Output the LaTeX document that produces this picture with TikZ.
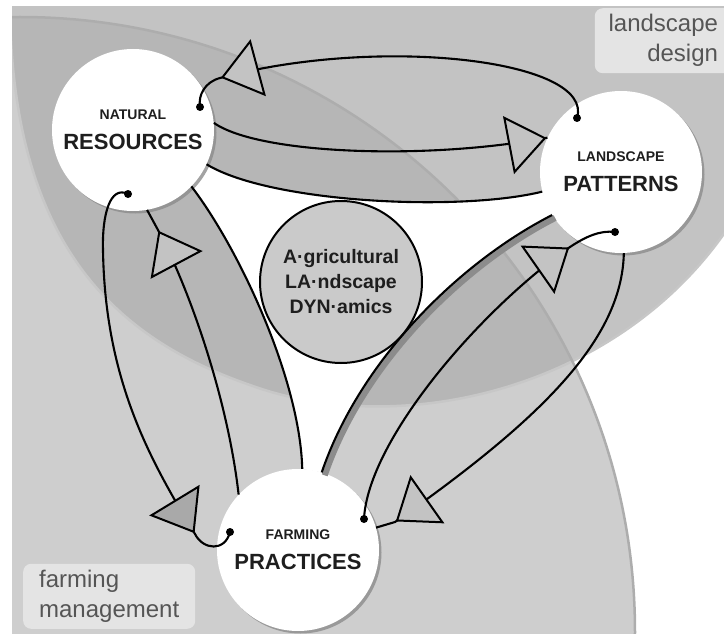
\documentclass[tikz,border=0pt]{standalone}
\usepackage{fontspec}
\setmainfont{Liberation Sans}
\usetikzlibrary{shapes.geometric,shadows,backgrounds}

\definecolor{landgray}{HTML}{C3C3C3}
\definecolor{farmgray}{HTML}{CECECE}
\definecolor{bothgray}{HTML}{B6B6B6}
\definecolor{rimgray}{HTML}{ADADAD}
\definecolor{veingray}{HTML}{C7C7C7}
\definecolor{boxgray}{HTML}{E4E4E4}
\definecolor{labelgray}{HTML}{555555}
\definecolor{hubgray}{HTML}{CACACA}
\definecolor{inkgray}{HTML}{1E1E1E}
\definecolor{darkwedge}{HTML}{A9A9A9}

\begin{document}
\begin{tikzpicture}[
	x=1pt, y=-1pt,
	topic/.style = {circle, minimum size=162pt, inner sep=0pt, fill=white, text=inkgray,
			font=\bfseries\fontsize{22}{30}\selectfont, align=center,
			drop shadow={shadow xshift=2.5pt, shadow yshift=-2.5pt, fill=black!45, opacity=.8}},
	hub/.style = {circle, minimum size=162pt, inner sep=0pt, draw, line width=2pt, fill=hubgray,
		      text=inkgray, font=\bfseries\fontsize{19.5}{25}\selectfont, align=center},
	zone/.style = {rounded corners=8pt, fill=boxgray, text=labelgray, inner sep=0pt,
		       font=\fontsize{24}{30}\selectfont, minimum height=65pt},
	flow/.style = {line width=2.1pt, black},
	wedge/.style = {isosceles triangle, isosceles triangle stretches, minimum width=55pt, minimum height=36pt,
			inner sep=0pt, anchor=apex, sloped, allow upside down, draw, line width=2pt, fill=#1},
	wedge/.default = landgray,
]
	\useasboundingbox (0,0) rectangle (724,634);

	\node [topic] (nr) at (133,130) {{\fontsize{14}{14}\selectfont NATURAL}\\RESOURCES};
	\node [topic] (lp) at (621,172) {{\fontsize{14}{14}\selectfont LANDSCAPE}\\PATTERNS};
	\node [topic] (fp) at (298,550) {{\fontsize{14}{14}\selectfont FARMING}\\PRACTICES};
	\node [hub] (ald) at (341,282) {A·gricultural\\LA·ndscape\\DYN·amics};

	\node [zone, anchor=north east, minimum width=137pt, align=right] (design) at (732,8) {landscape\\design};
	\node [zone, anchor=south west, minimum width=172pt, align=left] (management) at (23,629) {farming\\management};

	\path (nr.center) ++(67,-23) coordinate (nr-top);
	\path (nr.center) ++(-5,64) coordinate (nr-low);
	\path (lp.center) ++(-44,-54) coordinate (lp-top);
	\path (lp.center) ++(-6,60) coordinate (lp-low);
	\path (fp.center) ++(-68,-18) coordinate (fp-left);
	\path (fp.center) ++(66,-31) coordinate (fp-right);

	\begin{scope}[on background layer]
		\clip (12,7) rectangle (724,634);
		\fill [farmgray] (20,632) circle [radius=615pt];
		\fill [landgray] (10,15) .. controls (15,250) and (120,340) .. (250,385)
			.. controls (400,440) and (620,390) .. (730,225) -- (730,0) -- (0,0) -- cycle;
		\begin{scope}
			\clip (20,632) circle [radius=615pt];
			\fill [bothgray] (10,15) .. controls (15,250) and (120,340) .. (250,385)
				.. controls (400,440) and (620,390) .. (730,225) -- (730,0) -- (0,0) -- cycle;
		\end{scope}
		\draw [veingray, line width=2.5pt] (10,15) .. controls (15,250) and (120,340) .. (250,385)
			.. controls (400,440) and (620,390) .. (730,225);
		\draw [rimgray, line width=2.5pt] (20,632) circle [radius=615pt];
		\fill [white] (nr.335) .. controls (270,203) and (460,212) .. (lp.194) -- (lp.212)
			.. controls (460,262) and (360,360) .. (fp.73) -- (fp.87)
			.. controls (300,380) and (240,250) .. (nr.316) -- cycle;
	\end{scope}

	% round trip natural resources / landscape patterns
	\draw [flow] (lp-top) .. controls (595,60) and (380,35) .. (220,78) node [wedge, pos=1] (w1) {}
		.. controls (205,82) and (198,95) .. (nr-top);
	\draw [flow] (nr.5) .. controls (260,155) and (430,160) .. (lp.155) node [wedge, pos=1] (w2) {};
	\draw [flow] (nr.335) .. controls (270,203) and (460,212) .. (lp.194);

	% round trip natural resources / farming practices
	\draw [flow] (nr-low) .. controls (110,185) and (102,215) .. (103,250)
		.. controls (105,380) and (150,460) .. (195,534) node [wedge=darkwedge, pos=1] (w3) {}
		.. controls (203,550) and (225,552) .. (fp-left);
	\draw [flow] (fp.137) .. controls (228,400) and (190,290) .. (158,230) node [wedge, pos=1] (w4) {} -- (nr.280);
	\draw [flow] (nr.316) .. controls (240,250) and (300,380) .. (fp.87);

	% round trip landscape patterns / farming practices
	\draw [flow] (fp-right) .. controls (368,440) and (480,310) .. (570,247) node [wedge, pos=1] (w5) {}
		.. controls (585,237) and (600,230) .. (lp-low);
	\draw [flow] (lp.272) .. controls (622,340) and (540,420) .. (395,522) node [wedge, pos=1] (w6) {} -- (fp.16);
	\draw [flow, preaction={draw=black!45, line width=6pt, transform canvas={shift={(3pt,-3pt)}}}]
		(lp.212) .. controls (460,262) and (360,360) .. (fp.73);

	\foreach \spot in {nr-top, nr-low, lp-top, lp-low, fp-left, fp-right}
		\fill (\spot) circle (4pt);
\end{tikzpicture}
\end{document}
